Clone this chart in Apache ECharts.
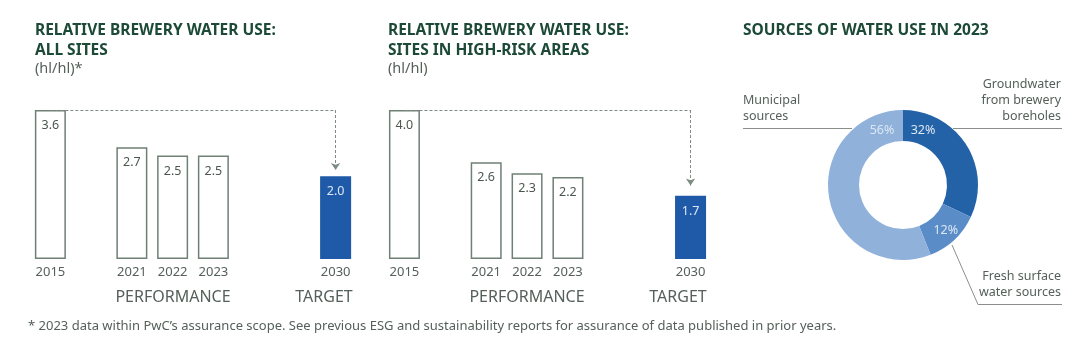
<!DOCTYPE html>
<html><head><meta charset="utf-8">
<script src="https://cdn.jsdelivr.net/npm/echarts@6/dist/echarts.min.js"></script>
<style>html,body{margin:0;padding:0;background:#fff}#c{width:1080px;height:359px}</style>
</head><body><div id="c"></div>
<script>
// ---- data ----
const categories = ['2015', '', '2021', '2022', '2023', '', '', '2030'];
const allSites = [3.6, null, 2.7, 2.5, 2.5, null, null, 2.0];
const highRisk = [4.0, null, 2.6, 2.3, 2.2, null, null, 1.7];
const baseYear = '2015';
const targetYear = '2030';
const groupLabels = ['PERFORMANCE', 'TARGET'];
const title1 = ['RELATIVE BREWERY WATER USE:', 'ALL SITES', '(hl/hl)*'];
const title2 = ['RELATIVE BREWERY WATER USE:', 'SITES IN HIGH-RISK AREAS', '(hl/hl)'];
const title3 = 'SOURCES OF WATER USE IN 2023';
const sourceNames = ['Groundwater\nfrom brewery\nboreholes', 'Fresh surface\nwater sources', 'Municipal\nsources'];
const sourceValues = [32, 12, 56];
const footnote = '* 2023 data within PwC\u2019s assurance scope. See previous ESG and sustainability reports for assurance of data published in prior years.';

// ---- style ----
const FONT = '"Noto Sans", sans-serif';
const TITLE_C = '#1d4a38';
const TEXT_C = '#55605a';
const BORDER_C = '#6f8075';
const BLUE = '#1f5aa8';
const pieColors = ['#2462a8', '#5a8cc8', '#8fb1da'];

const chart = echarts.init(document.getElementById('c'), null, {renderer: 'canvas'});

function barSeries(data, gridIdx, arrowGap) {
  const base = data[categories.indexOf(baseYear)];
  const target = data[categories.indexOf(targetYear)];
  return {
    type: 'bar', xAxisIndex: gridIdx, yAxisIndex: gridIdx,
    barWidth: 31,
    data: data.map((v, i) => v == null ? null : (categories[i] === targetYear ? {
      value: v, itemStyle: {color: BLUE, borderColor: BLUE},
      label: {color: '#dce7f4'}
    } : v)),
    itemStyle: {color: '#fff', borderColor: BORDER_C, borderWidth: 1.5},
    label: {show: true, position: 'insideTop', distance: 9, fontFamily: FONT, fontSize: 12.5,
      color: '#4a564f', formatter: p => p.value.toFixed(1)},
    markLine: {
      silent: true, animation: false,
      lineStyle: {type: [3, 2], color: '#7d8c83', width: 1},
      label: {show: false},
      symbolSize: 7,
      data: [
        [{coord: [baseYear, base], symbol: 'none'}, {coord: [targetYear, base], symbol: 'none'}],
        [{coord: [targetYear, base], symbol: 'none'}, {coord: [targetYear, target + arrowGap], symbol: 'arrow'}]
      ]
    }
  };
}

function xAxis(gridIdx) {
  return {type: 'category', gridIndex: gridIdx, data: categories,
    axisLine: {show: false}, axisTick: {show: false},
    axisLabel: {interval: 0, margin: 7, fontFamily: FONT, fontSize: 13, color: TEXT_C}};
}
function yAxis(gridIdx) {
  return {type: 'value', gridIndex: gridIdx, min: 0, max: 'dataMax', show: false, splitLine: {show: false}};
}

const TITLE_FONT = 'bold 15.5px ' + FONT;
function titleTexts(lines, x) {
  return [
    {type: 'text', left: x, top: 23, style: {text: lines[0], font: TITLE_FONT, fill: TITLE_C}},
    {type: 'text', left: x, top: 43, style: {text: lines[1], font: TITLE_FONT, fill: TITLE_C}},
    {type: 'text', left: x, top: 61, style: {text: lines[2], font: '14.5px ' + FONT, fill: TEXT_C}}
  ];
}

const center = [903, 185];
const rIn = 44, rOut = 75;
const labelAngles = [20, null, -21]; // degrees clockwise from top; null = default inside

const GROUP_FONT = '16px ' + FONT;
const option = {
  animation: false,
  grid: [
    {left: 30, width: 326, top: 110, bottom: 100},
    {left: 384, width: 327, top: 110, bottom: 100}
  ],
  xAxis: [xAxis(0), xAxis(1)],
  yAxis: [yAxis(0), yAxis(1)],
  series: [
    barSeries(allSites, 0, 0.15),
    barSeries(highRisk, 1, 0.27),
    {
      type: 'pie', center: center, radius: [rIn, rOut], startAngle: 90, clockwise: true,
      silent: true,
      data: sourceValues.map((v, i) => ({value: v, name: sourceNames[i], itemStyle: {color: pieColors[i]}})),
      itemStyle: {borderWidth: 0},
      label: {show: true, position: 'inside', formatter: '{c}%', fontFamily: FONT, fontSize: 12.5, color: '#dce7f4'},
      labelLine: {show: false},
      labelLayout: function (p) {
        const a = labelAngles[p.dataIndex];
        if (a == null) return {};
        const r = (rIn + rOut) / 2 - 1;
        const rad = a * Math.PI / 180;
        return {x: center[0] + r * Math.sin(rad), y: center[1] - r * Math.cos(rad), align: 'center', verticalAlign: 'middle'};
      }
    }
  ],
  graphic: [
    ...titleTexts(title1, 35),
    ...titleTexts(title2, 388),
    {type: 'text', left: 743, top: 23, style: {text: title3, font: TITLE_FONT, fill: TITLE_C}},
    // group labels
    {type: 'text', x: 173, y: 297, style: {text: groupLabels[0], font: GROUP_FONT, fill: TEXT_C, align: 'center', verticalAlign: 'middle'}},
    {type: 'text', x: 324, y: 297, style: {text: groupLabels[1], font: GROUP_FONT, fill: TEXT_C, align: 'center', verticalAlign: 'middle'}},
    {type: 'text', x: 527, y: 297, style: {text: groupLabels[0], font: GROUP_FONT, fill: TEXT_C, align: 'center', verticalAlign: 'middle'}},
    {type: 'text', x: 678, y: 297, style: {text: groupLabels[1], font: GROUP_FONT, fill: TEXT_C, align: 'center', verticalAlign: 'middle'}},
    // donut annotations
    {type: 'text', x: 743, y: 124, style: {text: sourceNames[2], font: '12.5px ' + FONT, fill: TEXT_C, align: 'left', verticalAlign: 'bottom', lineHeight: 16}},
    {type: 'line', shape: {x1: 743, y1: 128.5, x2: 852, y2: 128.5}, style: {stroke: '#8a8f8c', lineWidth: 1}},
    {type: 'text', x: 1061, y: 124, style: {text: sourceNames[0], font: '12.5px ' + FONT, fill: TEXT_C, align: 'right', verticalAlign: 'bottom', lineHeight: 16}},
    {type: 'line', shape: {x1: 953, y1: 128.5, x2: 1062, y2: 128.5}, style: {stroke: '#8a8f8c', lineWidth: 1}},
    {type: 'text', x: 1061, y: 300, style: {text: sourceNames[1], font: '12.5px ' + FONT, fill: TEXT_C, align: 'right', verticalAlign: 'bottom', lineHeight: 16}},
    {type: 'polyline', shape: {points: [[952, 245], [978, 304.5], [1062, 304.5]]}, style: {stroke: '#8a8f8c', lineWidth: 1, fill: null}},
    // footnote
    {type: 'text', left: 28, top: 320, style: {text: footnote, font: '13px ' + FONT, fill: TEXT_C}}
  ]
};
chart.setOption(option);
</script>
</body></html>
